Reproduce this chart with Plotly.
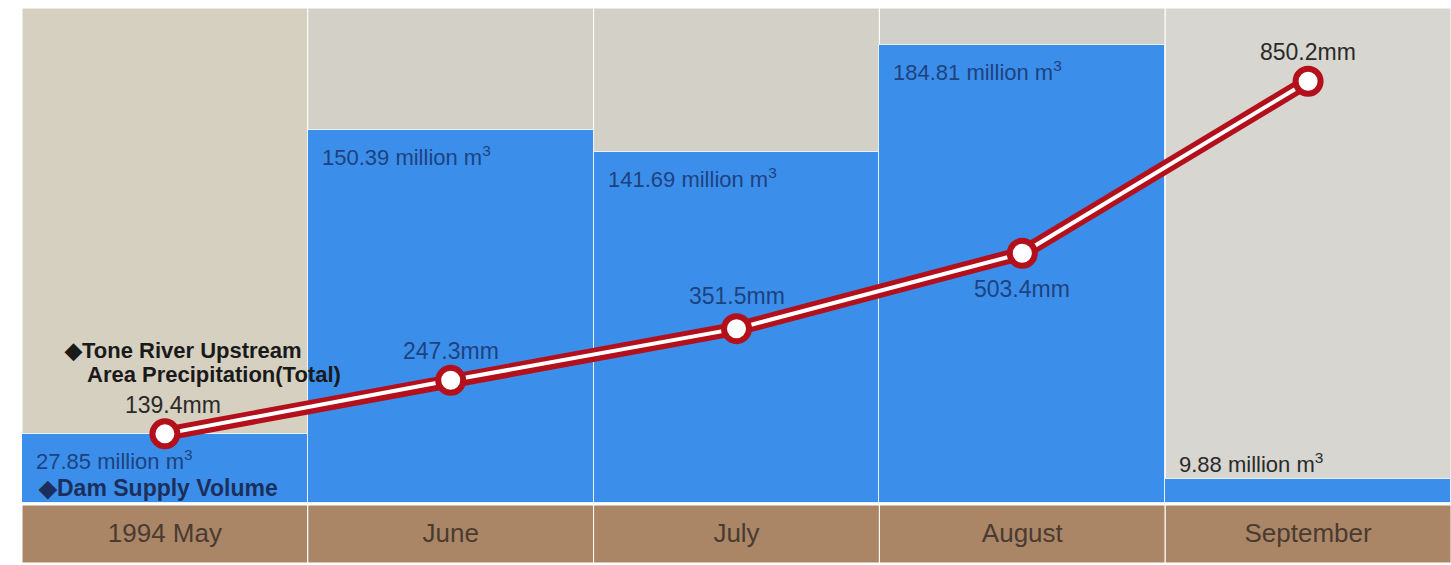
import plotly.graph_objects as go

# ---- data ----
months = ["1994 May", "June", "July", "August", "September"]
supply = [27.85, 150.39, 141.69, 184.81, 9.88]          # million m3
precip = [139.4, 247.3, 351.5, 503.4, 850.2]            # mm
supply_labels = ["27.85 million m<sup>3</sup>", "150.39 million m<sup>3</sup>",
                 "141.69 million m<sup>3</sup>", "184.81 million m<sup>3</sup>",
                 "9.88 million m<sup>3</sup>"]
precip_labels = ["139.4mm", "247.3mm", "351.5mm", "503.4mm", "850.2mm"]

# ---- styles ----
BLUE = "#3b8fea"
RED = "#b3101c"
BROWN = "#aa8667"
PANEL = ["#d6d0c0", "#d3d0c8", "#d3d0c8", "#d2d0ca", "#d8d6d0"]
NAVY = "#1e4280"
DARK = "#2a2a2a"
SANS = "Liberation Sans, Arial, Helvetica"

xs = list(range(len(months)))

fig = go.Figure()

fig.add_trace(go.Bar(
    x=xs, y=supply, width=1.0,
    marker=dict(color=BLUE, line=dict(color="rgba(255,255,255,0.8)", width=1)),
    hoverinfo="skip", showlegend=False,
))
fig.add_trace(go.Scatter(
    x=xs, y=precip, yaxis="y2", mode="lines",
    line=dict(color=RED, width=14), hoverinfo="skip", showlegend=False,
))
fig.add_trace(go.Scatter(
    x=xs, y=precip, yaxis="y2", mode="lines",
    line=dict(color="white", width=4), hoverinfo="skip", showlegend=False,
))
fig.add_trace(go.Scatter(
    x=xs, y=precip, yaxis="y2", mode="markers",
    marker=dict(size=25, color="white", line=dict(color=RED, width=6)),
    hoverinfo="skip", showlegend=False,
))

shapes = []
for i in xs:
    shapes.append(dict(type="rect", xref="x", yref="paper", layer="below",
                       x0=i - 0.5, x1=i + 0.5, y0=0, y1=1,
                       fillcolor=PANEL[i], line=dict(color="white", width=1)))
    shapes.append(dict(type="rect", xref="x", yref="paper", layer="below",
                       x0=i - 0.5, x1=i + 0.5, y0=-60 / 495, y1=-2 / 495,
                       fillcolor=BROWN, line=dict(color="white", width=1)))

annotations = []
# bar labels
for i, (v, t) in enumerate(zip(supply, supply_labels)):
    inside = v > 20
    annotations.append(dict(
        x=i - 0.5, y=v, xref="x", yref="y", text=t, showarrow=False,
        xanchor="left", yanchor="top" if inside else "bottom",
        xshift=12, yshift=-10 if inside else 0,
        font=dict(family=SANS, size=22, color=NAVY if inside else DARK),
    ))
# precipitation labels
offsets = [(8, 29), (0, 29), (0, 33), (0, -36), (0, 29)]
on_blue = [False, True, True, True, False]
for i, (v, t) in enumerate(zip(precip, precip_labels)):
    dx, dy = offsets[i]
    annotations.append(dict(
        x=i, y=v, xref="x", yref="y2", text=t, showarrow=False,
        xanchor="center", yanchor="middle", xshift=dx, yshift=dy,
        font=dict(family=SANS, size=23, color=NAVY if on_blue[i] else DARK),
    ))
# series captions
annotations.append(dict(x=0, y=precip[0], xref="x", yref="y2",
                        text="◆Tone River Upstream", showarrow=False,
                        xanchor="left", yanchor="middle", xshift=-103, yshift=83,
                        font=dict(family=SANS, size=22, color="#1a1a1a", weight="bold")))
annotations.append(dict(x=0, y=precip[0], xref="x", yref="y2",
                        text="Area Precipitation(Total)", showarrow=False,
                        xanchor="left", yanchor="middle", xshift=-80, yshift=59,
                        font=dict(family=SANS, size=22, color="#1a1a1a", weight="bold")))
annotations.append(dict(x=-0.5, y=0, xref="x", yref="y",
                        text="◆Dam Supply Volume", showarrow=False,
                        xanchor="left", yanchor="middle", xshift=14, yshift=15,
                        font=dict(family=SANS, size=23, color="#1c2f5c", weight="bold")))

fig.update_layout(
    width=1451, height=565,
    margin=dict(l=22, r=0, t=8, b=62),
    paper_bgcolor="white", plot_bgcolor="white",
    bargap=0,
    xaxis=dict(range=[-0.5, 4.5], tickvals=xs, ticktext=months, ticks="",
               showgrid=False, zeroline=False, showline=False,
               tickfont=dict(family=SANS, size=26, color="#4a3b30"),
               ticklabelstandoff=12),
    yaxis=dict(range=[0, 199.6], visible=False, showgrid=False),
    yaxis2=dict(range=[0, 998], overlaying="y", visible=False, showgrid=False),
    shapes=shapes,
    annotations=annotations,
)

fig.write_html("out.html")
